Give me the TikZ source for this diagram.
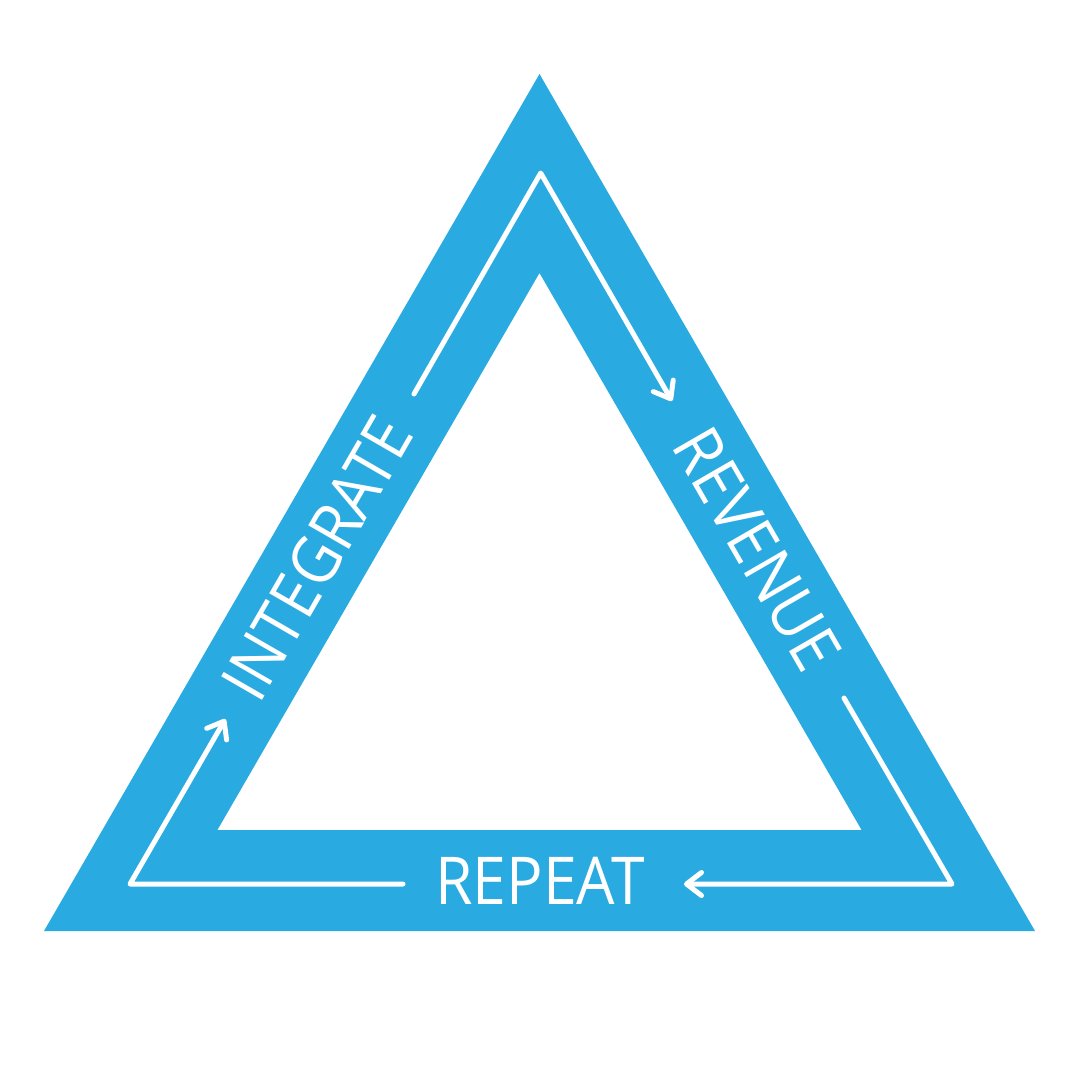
\documentclass[tikz,border=0pt]{standalone}
\usepackage{fontspec}
\newfontfamily\labelfont[FakeStretch=0.92]{Open Sans}
\usetikzlibrary{arrows.meta}
\definecolor{bandblue}{HTML}{29AAE1}
\begin{document}
\begin{tikzpicture}[x=1pt,y=-1pt,
  band/.style={fill=bandblue, even odd rule},
  flow/.style={draw=white, line width=5pt, line cap=round, line join=round,
    -{Straight Barb[length=15pt,width=23pt,line cap=round,line join=round]}},
  lbl/.style={text=white, font=\labelfont\fontsize{66}{66}\selectfont, inner sep=0pt}]
\useasboundingbox (0,0) rectangle (1080,1080);
\fill[band] (44,931) -- (539.5,74) -- (1035,931) -- cycle
            (217.4,830) -- (539.5,273) -- (861.6,830) -- cycle;
% white loop coordinates
\coordinate (apex) at (540.7,173);
\coordinate (bl) at (130,884);
\coordinate (br) at (952,884);
\coordinate (topstart) at (414,394);
\coordinate (toptip) at (672,401);
\coordinate (rightstart) at (844,698);
\coordinate (bottomtip) at (684,884);
\coordinate (bottomstart) at (403,884);
\coordinate (lefttip) at (225.4,719);
\draw[flow] (topstart) -- (apex) -- (toptip);
\draw[flow] (rightstart) -- (br) -- (bottomtip);
\draw[flow] (bottomstart) -- (bl) -- (lefttip);
% labels
\node[lbl, rotate=60] (integrate) at (317,558) {INTEGRATE};
\node[lbl, rotate=-60] (revenue) at (757,549) {REVENUE};
\node[lbl] (repeat) at (540,880.5) {REPEAT};
\end{tikzpicture}
\end{document}
